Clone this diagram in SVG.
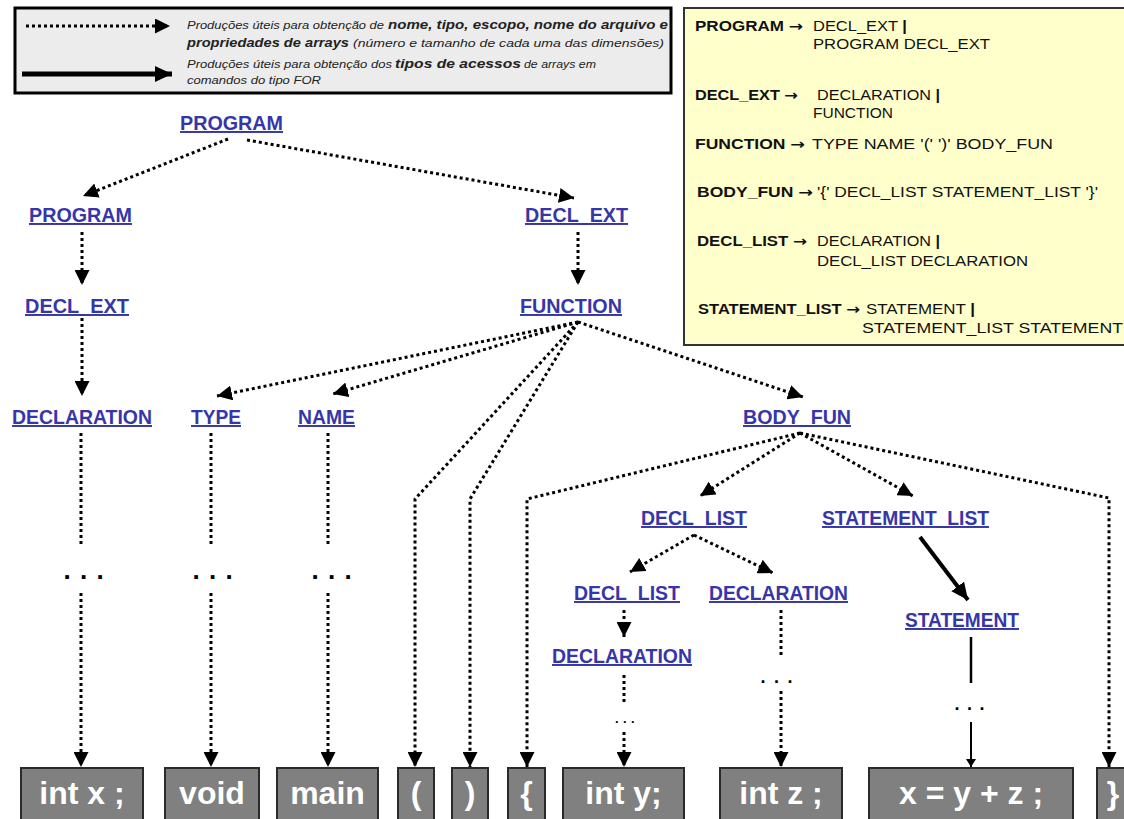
<svg xmlns="http://www.w3.org/2000/svg" width="1124" height="819" viewBox="0 0 1124 819">
<defs>
<style>
.lbl{font-family:"Liberation Sans",Arial,sans-serif;font-weight:bold;font-size:19.5px;fill:#3636a8;text-decoration:underline;}
.dot{fill:none;stroke:#000;stroke-width:3;stroke-dasharray:3 3;}
.sol{fill:none;stroke:#000;}
.tok rect{fill:#808080;stroke:#2a2a2a;stroke-width:2;}
.tok text{font-family:"Liberation Sans",Arial,sans-serif;font-weight:bold;font-size:32px;fill:#fff;text-anchor:middle;}
.g{font-family:"Liberation Sans",Arial,sans-serif;font-size:14px;fill:#111;}
.gb{font-weight:bold;}
.arr{font-family:"DejaVu Sans",sans-serif;font-weight:bold;}
.leg{font-family:"Liberation Sans",Arial,sans-serif;font-style:italic;fill:#222;}
.ell{font-family:"Liberation Sans",Arial,sans-serif;font-weight:bold;fill:#000;}
</style>
<marker id="ah" markerUnits="userSpaceOnUse" markerWidth="15" markerHeight="15" viewBox="0 0 15 15" refX="15" refY="7.5" orient="auto"><path d="M0,0 L15,7.5 L0,15 z" fill="#000"/></marker>
<marker id="ahb" markerUnits="userSpaceOnUse" markerWidth="17" markerHeight="16" viewBox="0 0 17 16" refX="17" refY="8" orient="auto"><path d="M0,0 L17,8 L0,16 z" fill="#000"/></marker>
<marker id="ahs" markerUnits="userSpaceOnUse" markerWidth="8" markerHeight="10" viewBox="0 0 8 10" refX="8" refY="5" orient="auto"><path d="M0,0 L8,5 L0,10 z" fill="#000"/></marker>
</defs>
<rect width="1124" height="819" fill="#fff"/>

<g id="legend">
<rect x="15" y="8" width="656" height="85" fill="#ececec" stroke="#000" stroke-width="3"/>
<path class="dot" d="M26,26 L170,26" marker-end="url(#ah)"/>
<path class="sol" stroke-width="5" d="M22,74 L172,74" marker-end="url(#ahb)"/>
<text class="leg" x="187" y="29" font-size="10.5" textLength="197" lengthAdjust="spacingAndGlyphs">Produções úteis para obtenção  de</text>
<text class="leg" x="388" y="29" font-size="13.5" font-weight="bold" textLength="280" lengthAdjust="spacingAndGlyphs">nome, tipo, escopo, nome do arquivo e</text>
<text class="leg" x="187" y="47" font-size="13.5" font-weight="bold" textLength="162" lengthAdjust="spacingAndGlyphs">propriedades de arrays</text>
<text class="leg" x="353" y="47" font-size="10" textLength="311" lengthAdjust="spacingAndGlyphs">(número e tamanho de cada uma das dimensões)</text>
<text class="leg" x="187" y="68" font-size="10.5" textLength="205" lengthAdjust="spacingAndGlyphs">Produções úteis para obtenção  dos</text>
<text class="leg" x="395" y="68" font-size="13.5" font-weight="bold" textLength="126" lengthAdjust="spacingAndGlyphs">tipos de acessos</text>
<text class="leg" x="524" y="68" font-size="10" textLength="72" lengthAdjust="spacingAndGlyphs">de arrays em</text>
<text class="leg" x="187" y="84" font-size="10.5" textLength="134" lengthAdjust="spacingAndGlyphs">comandos do tipo FOR</text>
</g>

<g id="grammar">
<rect x="684" y="8" width="450" height="337" fill="#ffffcc" stroke="#333" stroke-width="2"/>
<text class="g gb" x="695" y="31" textLength="108" lengthAdjust="spacingAndGlyphs">PROGRAM <tspan class="arr">→</tspan></text>
<text class="g" x="813" y="31" textLength="94" lengthAdjust="spacingAndGlyphs">DECL_EXT <tspan class="gb">|</tspan></text>
<text class="g" x="813" y="49" textLength="177" lengthAdjust="spacingAndGlyphs">PROGRAM DECL_EXT</text>
<text class="g gb" x="695" y="100" textLength="103" lengthAdjust="spacingAndGlyphs">DECL_EXT <tspan class="arr">→</tspan></text>
<text class="g" x="817" y="100" textLength="123" lengthAdjust="spacingAndGlyphs">DECLARATION <tspan class="gb">|</tspan></text>
<text class="g" x="813" y="118" textLength="80" lengthAdjust="spacingAndGlyphs">FUNCTION</text>
<text class="g gb" x="695" y="149" textLength="110" lengthAdjust="spacingAndGlyphs">FUNCTION <tspan class="arr">→</tspan></text>
<text class="g" x="812" y="149" textLength="241" lengthAdjust="spacingAndGlyphs">TYPE  NAME  '('  ')'  BODY_FUN</text>
<text class="g gb" x="697" y="197" textLength="116" lengthAdjust="spacingAndGlyphs">BODY_FUN <tspan class="arr">→</tspan></text>
<text class="g" x="817" y="197" textLength="281" lengthAdjust="spacingAndGlyphs">'{'  DECL_LIST  STATEMENT_LIST  '}'</text>
<text class="g gb" x="697" y="246" textLength="110" lengthAdjust="spacingAndGlyphs">DECL_LIST <tspan class="arr">→</tspan></text>
<text class="g" x="817" y="246" textLength="123" lengthAdjust="spacingAndGlyphs">DECLARATION <tspan class="gb">|</tspan></text>
<text class="g" x="817" y="266" textLength="211" lengthAdjust="spacingAndGlyphs">DECL_LIST DECLARATION</text>
<text class="g gb" x="698" y="314" textLength="162" lengthAdjust="spacingAndGlyphs">STATEMENT_LIST <tspan class="arr">→</tspan></text>
<text class="g" x="866" y="314" textLength="109" lengthAdjust="spacingAndGlyphs">STATEMENT <tspan class="gb">|</tspan></text>
<text class="g" x="862" y="333" textLength="261" lengthAdjust="spacingAndGlyphs">STATEMENT_LIST STATEMENT</text>
</g>

<g id="connectors">
<path class="dot" d="M228,139 L83,196" marker-end="url(#ah)"/>
<path class="dot" d="M247,140 L574,198" marker-end="url(#ah)"/>
<path class="dot" d="M82,232 L82,285" marker-end="url(#ah)"/>
<path class="dot" d="M578,232 L578,285" marker-end="url(#ah)"/>
<path class="dot" d="M82,318 L82,396" marker-end="url(#ah)"/>
<path class="dot" d="M578,322 L217,396" marker-end="url(#ah)"/>
<path class="dot" d="M578,322 L333,394" marker-end="url(#ah)"/>
<path class="dot" d="M578,322 L415,499 L415,767" marker-end="url(#ah)"/>
<path class="dot" d="M578,322 L470,499 L470,767" marker-end="url(#ah)"/>
<path class="dot" d="M578,322 L803,397" marker-end="url(#ah)"/>
<path class="dot" d="M81,433 L81,545"/>
<path class="dot" d="M81,593 L81,767" marker-end="url(#ah)"/>
<path class="dot" d="M211,433 L211,545"/>
<path class="dot" d="M211,593 L211,767" marker-end="url(#ah)"/>
<path class="dot" d="M328,433 L328,545"/>
<path class="dot" d="M328,593 L328,767" marker-end="url(#ah)"/>
<path class="dot" d="M800,433 L527,499 L527,767" marker-end="url(#ah)"/>
<path class="dot" d="M800,433 L700,496" marker-end="url(#ah)"/>
<path class="dot" d="M800,433 L913,496" marker-end="url(#ah)"/>
<path class="dot" d="M800,433 L1109,498 L1109,767" marker-end="url(#ah)"/>
<path class="dot" d="M694,535 L630,572" marker-end="url(#ah)"/>
<path class="dot" d="M694,535 L773,573" marker-end="url(#ah)"/>
<path class="sol" stroke-width="4" d="M920,537 L968,600" marker-end="url(#ahb)"/>
<path class="dot" d="M624,610 L624,637" marker-end="url(#ah)"/>
<path class="dot" d="M624,675 L624,703"/>
<path class="dot" d="M624,732 L624,767" marker-end="url(#ah)"/>
<path class="dot" d="M781,610 L781,658"/>
<path class="dot" d="M781,691 L781,767" marker-end="url(#ah)"/>
<path class="sol" stroke-width="2.5" d="M971,637 L971,683"/>
<path class="sol" stroke-width="2" d="M971,722 L971,767" marker-end="url(#ahs)"/>
</g>

<g id="ellipses">
<text class="ell" x="63.4" y="579" font-size="26" letter-spacing="9.3">...</text>
<text class="ell" x="192.4" y="579" font-size="26" letter-spacing="9.3">...</text>
<text class="ell" x="311.4" y="579" font-size="26" letter-spacing="9.3">...</text>
<text class="ell" x="760.5" y="682.5" font-size="18" letter-spacing="8.5">...</text>
<text class="ell" x="954.5" y="709.5" font-size="18" letter-spacing="7.5">...</text>
<text class="ell" x="615" y="723" font-size="13" letter-spacing="4.4" fill="#666">...</text>
</g>

<g id="n-program-root"><text class="lbl" x="180" y="130" textLength="103" lengthAdjust="spacingAndGlyphs">PROGRAM</text></g>
<g id="n-program"><text class="lbl" x="29" y="222" textLength="103" lengthAdjust="spacingAndGlyphs">PROGRAM</text></g>
<g id="n-declext-r"><text class="lbl" x="525" y="222" textLength="103" lengthAdjust="spacingAndGlyphs">DECL_EXT</text></g>
<g id="n-declext-l"><text class="lbl" x="25" y="313" textLength="104" lengthAdjust="spacingAndGlyphs">DECL_EXT</text></g>
<g id="n-function"><text class="lbl" x="520" y="313" textLength="102" lengthAdjust="spacingAndGlyphs">FUNCTION</text></g>
<g id="n-declaration-1"><text class="lbl" x="12" y="424" textLength="140" lengthAdjust="spacingAndGlyphs">DECLARATION</text></g>
<g id="n-type"><text class="lbl" x="191" y="424" textLength="50" lengthAdjust="spacingAndGlyphs">TYPE</text></g>
<g id="n-name"><text class="lbl" x="298" y="424" textLength="57" lengthAdjust="spacingAndGlyphs">NAME</text></g>
<g id="n-bodyfun"><text class="lbl" x="743" y="424" textLength="108" lengthAdjust="spacingAndGlyphs">BODY_FUN</text></g>
<g id="n-decllist"><text class="lbl" x="641" y="525" textLength="106" lengthAdjust="spacingAndGlyphs">DECL_LIST</text></g>
<g id="n-stmtlist"><text class="lbl" x="822" y="525" textLength="167" lengthAdjust="spacingAndGlyphs">STATEMENT_LIST</text></g>
<g id="n-decllist-2"><text class="lbl" x="574" y="600" textLength="106" lengthAdjust="spacingAndGlyphs">DECL_LIST</text></g>
<g id="n-declaration-2"><text class="lbl" x="709" y="600" textLength="139" lengthAdjust="spacingAndGlyphs">DECLARATION</text></g>
<g id="n-declaration-3"><text class="lbl" x="552" y="663" textLength="140" lengthAdjust="spacingAndGlyphs">DECLARATION</text></g>
<g id="n-statement"><text class="lbl" x="905" y="627" textLength="114" lengthAdjust="spacingAndGlyphs">STATEMENT</text></g>

<g id="t-intx" class="tok"><rect x="21" y="768" width="122" height="60"/><text x="82" y="804">int x ;</text></g>
<g id="t-void" class="tok"><rect x="165" y="768" width="94" height="60"/><text x="212" y="804">void</text></g>
<g id="t-main" class="tok"><rect x="277" y="768" width="101" height="60"/><text x="327.5" y="804">main</text></g>
<g id="t-lpar" class="tok"><rect x="398" y="768" width="36" height="60"/><text x="416" y="804">(</text></g>
<g id="t-rpar" class="tok"><rect x="452" y="768" width="36" height="60"/><text x="470" y="804">)</text></g>
<g id="t-lbrace" class="tok"><rect x="508" y="768" width="37" height="60"/><text x="526.5" y="804">{</text></g>
<g id="t-inty" class="tok"><rect x="563" y="768" width="121" height="60"/><text x="623.5" y="804">int y;</text></g>
<g id="t-intz" class="tok"><rect x="720" y="768" width="122" height="60"/><text x="781" y="804">int z ;</text></g>
<g id="t-assign" class="tok"><rect x="869" y="768" width="204" height="60"/><text x="971" y="804">x = y + z ;</text></g>
<g id="t-rbrace" class="tok"><rect x="1097" y="768" width="40" height="60"/><text x="1113" y="804">}</text></g>
</svg>
